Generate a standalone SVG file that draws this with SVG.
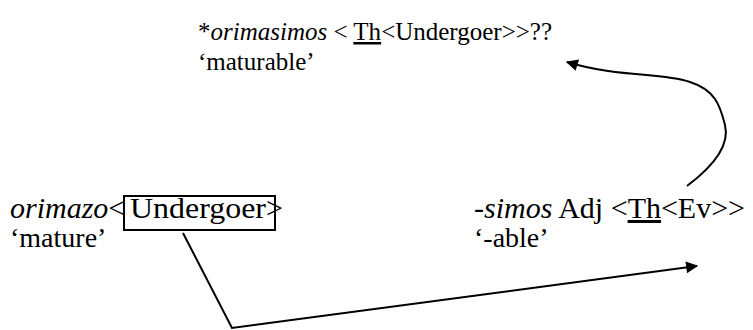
<svg xmlns="http://www.w3.org/2000/svg" width="753" height="330" viewBox="0 0 753 330">
<style>
text{font-family:"Liberation Serif","Times New Roman",serif;fill:#000}
.t{font-size:25px}
.b{font-size:30px}
.b2{font-size:28px}
.it{font-style:italic}
.u{text-decoration:underline}
.ln{fill:none;stroke:#000;stroke-width:2}
</style>
<defs>
<marker id="ah2" viewBox="0 0 10 10" refX="9" refY="5" markerWidth="16" markerHeight="12" markerUnits="userSpaceOnUse" orient="auto">
<path d="M0,0 L10,5 L0,10 z" fill="#000"/>
</marker>
</defs>
<g id="node-top">
<text class="t" x="198" y="40">*<tspan class="it">orimasimos</tspan> &lt; <tspan class="u">Th</tspan>&lt;Undergoer&gt;&gt;??</text>
<text class="t" x="198" y="70">‘maturable’</text>
</g>
<g id="node-left">
<text class="b" x="10" y="218"><tspan class="it">orimazo</tspan>&lt;<tspan x="130" textLength="136" lengthAdjust="spacingAndGlyphs">Undergoer</tspan><tspan x="266">&gt;</tspan></text>
<rect x="124" y="196" width="151" height="34" class="ln" stroke-width="1.5"/>
<text class="b2" x="10" y="247">‘mature’</text>
</g>
<g id="node-right">
<text class="b" x="474" y="218">-<tspan class="it">simos</tspan> Adj &lt;<tspan class="u">Th</tspan>&lt;Ev&gt;&gt;</text>
<text class="b2" x="474" y="247">‘-able’</text>
</g>
<g id="connectors">
<polyline class="ln" points="183,233 232,328 697,266" marker-end="url(#ah2)"/>
<path class="ln" d="M687,186 C715,165 730,145 725,125 C720,105 715,90 690,82 C660,72 620,78 567,62" marker-end="url(#ah2)"/>
</g>
</svg>
